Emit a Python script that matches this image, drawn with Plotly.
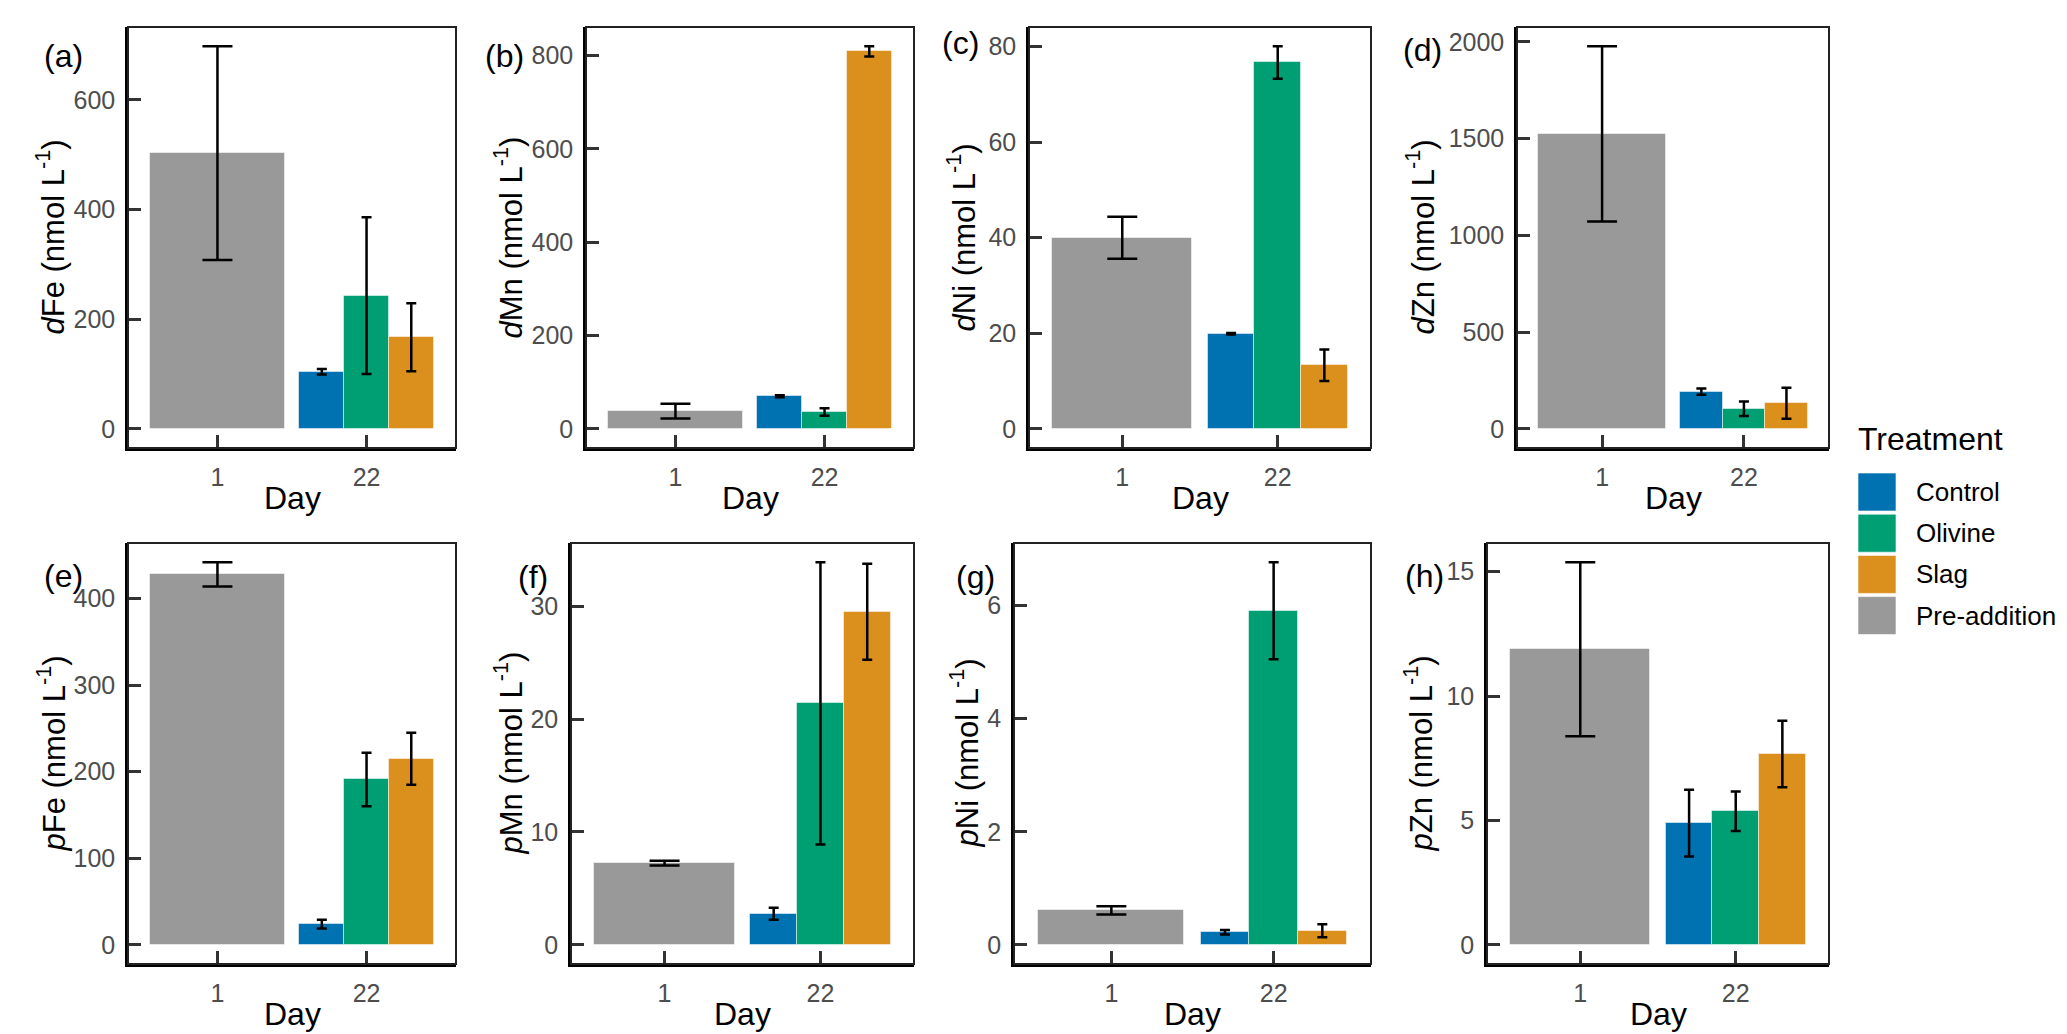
import plotly.graph_objects as go

# 데이터: 금속별 평균 / 표준편차
days = ['1', '22']
treatments = ['Control', 'Olivine', 'Slag']
legend_items = ['Control', 'Olivine', 'Slag', 'Pre-addition']
colors = {'Control': '#0071B1', 'Olivine': '#009F73', 'Slag': '#DB901E', 'Pre-addition': '#999999'}

tags = ['(a)', '(b)', '(c)', '(d)', '(e)', '(f)', '(g)', '(h)']
y_titles = ['<i>d</i>Fe (nmol L<sup>-1</sup>)', '<i>d</i>Mn (nmol L<sup>-1</sup>)',
            '<i>d</i>Ni (nmol L<sup>-1</sup>)', '<i>d</i>Zn (nmol L<sup>-1</sup>)',
            '<i>p</i>Fe (nmol L<sup>-1</sup>)', '<i>p</i>Mn (nmol L<sup>-1</sup>)',
            '<i>p</i>Ni (nmol L<sup>-1</sup>)', '<i>p</i>Zn (nmol L<sup>-1</sup>)']
y_dticks = [200, 200, 20, 500, 100, 10, 2, 5]

pre_mean = [503, 38, 40, 1525, 428, 7.25, 0.61, 11.88]
pre_sd = [195, 16, 4.4, 453, 14, 0.21, 0.075, 3.5]
control_mean = [104, 70, 19.9, 192, 24, 2.75, 0.225, 4.89]
control_sd = [5, 2, 0.15, 16, 5, 0.53, 0.04, 1.34]
olivine_mean = [243, 36, 76.7, 104, 191, 21.4, 5.91, 5.37]
olivine_sd = [143, 8, 3.4, 38, 31, 12.5, 0.86, 0.79]
slag_mean = [167, 809, 13.3, 132, 215, 29.5, 0.25, 7.67]
slag_sd = [62, 11, 3.3, 80, 30, 4.25, 0.115, 1.34]

means = {'Control': control_mean, 'Olivine': olivine_mean, 'Slag': slag_mean}
sds = {'Control': control_sd, 'Olivine': olivine_sd, 'Slag': slag_sd}

# 레이아웃 (픽셀 기준)
W, H = 2067, 1034
FONT = 'Liberation Sans, Arial, sans-serif'
panel_x = [(120, 448), (578, 906), (1021, 1363), (1509, 1821),
           (120, 448), (563, 906), (1006, 1363), (1479, 1821)]
panel_y = [(19, 440)] * 4 + [(535, 956)] * 4
tag_pos = [(55, 48), (496, 48), (952, 35), (1414, 42),
           (55, 568), (525, 569), (967, 569), (1416, 568)]
ytitle_x = [43, 501, 954, 1413, 43, 500, 956, 1410]


def px(x):
    return x / W


def py(y):
    return 1 - y / H


fig = go.Figure()
annotations = []
shapes = []

for i in range(8):
    xn = 'x' if i == 0 else f'x{i+1}'
    yn = 'y' if i == 0 else f'y{i+1}'

    # Pre-addition (Day 1)
    fig.add_trace(go.Bar(
        x=[days[0]], y=[pre_mean[i]], width=0.9, offset=-0.45,
        error_y=dict(type='data', array=[pre_sd[i]], width=15, thickness=2.5, color='black'),
        marker=dict(color=colors['Pre-addition'], line=dict(color='rgba(255,255,255,0.5)', width=1)),
        xaxis=xn, yaxis=yn, showlegend=False, name='Pre-addition'))

    # Day 22 처리군
    for k, t in enumerate(treatments):
        fig.add_trace(go.Bar(
            x=[days[1]], y=[means[t][i]], width=0.3, offset=-0.45 + 0.3 * k,
            error_y=dict(type='data', array=[sds[t][i]], width=5, thickness=2.5, color='black'),
            marker=dict(color=colors[t], line=dict(color='rgba(255,255,255,0.5)', width=1)),
            xaxis=xn, yaxis=yn, showlegend=False, name=t))

    top = max(pre_mean[i] + pre_sd[i], *[means[t][i] + sds[t][i] for t in treatments])
    x0, x1 = panel_x[i]
    y0, y1 = panel_y[i]

    axis_common = dict(showline=True, linewidth=2.5, linecolor='black', ticks='inside',
                       ticklen=13, tickwidth=2.5, tickcolor='#333333', showgrid=False,
                       zeroline=False, ticklabelstandoff=5,
                       tickfont=dict(family=FONT, size=25, color='#4D4D4D'))
    fig.update_layout(**{
        ('xaxis' if i == 0 else f'xaxis{i+1}'): dict(
            domain=[px(x0), px(x1)], anchor=yn, type='category',
            categoryorder='array', categoryarray=days, range=[-0.6, 1.6], **axis_common),
        ('yaxis' if i == 0 else f'yaxis{i+1}'): dict(
            domain=[py(y1), py(y0)], anchor=xn, range=[-0.05 * top, 1.05 * top],
            tick0=0, dtick=y_dticks[i], **axis_common),
    })

    # 상단/오른쪽 테두리
    shapes.append(dict(type='rect', xref=f'{xn} domain', yref=f'{yn} domain',
                       x0=0, x1=1, y0=0, y1=1, line=dict(color='#222222', width=2)))

    annotations.append(dict(text=tags[i], x=px(tag_pos[i][0]), y=py(tag_pos[i][1]),
                            xref='paper', yref='paper', showarrow=False,
                            xanchor='center', yanchor='middle',
                            font=dict(family=FONT, size=32, color='black')))
    annotations.append(dict(text=y_titles[i], x=px(ytitle_x[i]), y=py((y0 + y1) / 2),
                            xref='paper', yref='paper', showarrow=False, textangle=-90,
                            xanchor='center', yanchor='middle',
                            font=dict(family=FONT, size=31, color='black')))
    annotations.append(dict(text='Day', x=px((x0 + x1) / 2), y=py(y1 + 50),
                            xref='paper', yref='paper', showarrow=False,
                            xanchor='center', yanchor='middle',
                            font=dict(family=FONT, size=32, color='black')))

# 범례 (수동)
annotations.append(dict(text='Treatment', x=px(1848), y=py(431), xref='paper', yref='paper',
                        showarrow=False, xanchor='left', yanchor='middle',
                        font=dict(family=FONT, size=32, color='black')))
for k, t in enumerate(legend_items):
    top_px = 465 + 41.2 * k
    shapes.append(dict(type='rect', xref='paper', yref='paper',
                       x0=px(1850), x1=px(1888), y0=py(top_px + 38), y1=py(top_px),
                       fillcolor=colors[t], line=dict(color='rgba(255,255,255,0.6)', width=1)))
    annotations.append(dict(text=t, x=px(1906), y=py(top_px + 19), xref='paper', yref='paper',
                            showarrow=False, xanchor='left', yanchor='middle',
                            font=dict(family=FONT, size=26, color='black')))

fig.update_layout(
    width=W, height=H, autosize=False,
    margin=dict(l=0, r=0, t=0, b=0),
    paper_bgcolor='white', plot_bgcolor='white',
    barmode='overlay', bargap=0,
    annotations=annotations, shapes=shapes,
    font=dict(family=FONT),
)

fig.write_html("out.html")
